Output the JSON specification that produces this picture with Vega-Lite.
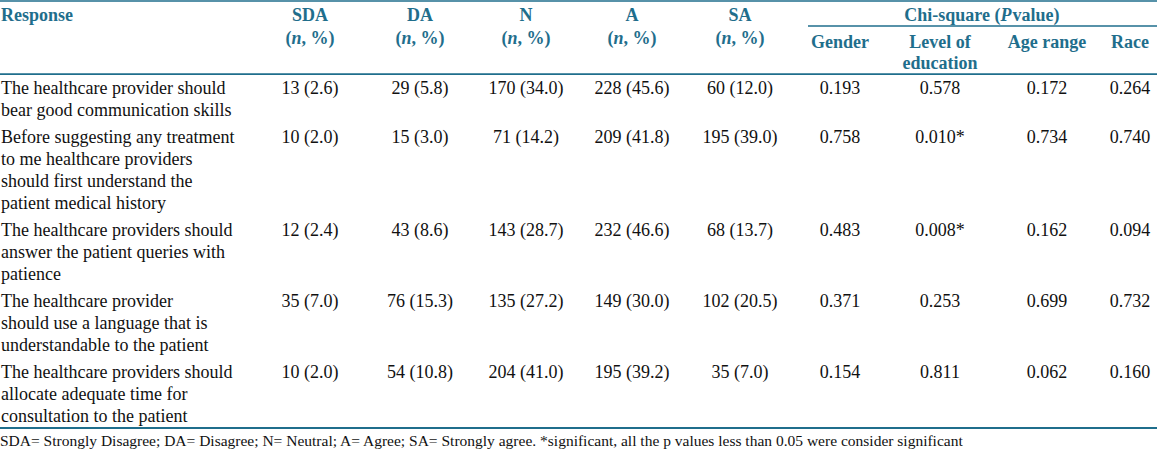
{
  "$schema": "https://vega.github.io/schema/vega-lite/v6.json",
  "width": 1157,
  "height": 451,
  "autosize": "none",
  "padding": 0,
  "background": "white",
  "config": {
    "view": {"stroke": null},
    "text": {"font": "Liberation Serif, Times New Roman, serif", "fontSize": 18, "baseline": "top", "color": "#111111"}
  },
  "datasets": {
    "header": [
      {"part": "l", "col": 0, "slot": -3, "text": "Response"},
      {"part": "c", "col": 1, "slot": -3, "text": "SDA"},
      {"part": "c", "col": 2, "slot": -3, "text": "DA"},
      {"part": "c", "col": 3, "slot": -3, "text": "N"},
      {"part": "c", "col": 4, "slot": -3, "text": "A"},
      {"part": "c", "col": 5, "slot": -3, "text": "SA"},
      {"part": "c", "col": 6, "slot": -1.5, "text": "Gender"},
      {"part": "c", "col": 7, "slot": -1.5, "text": "Level of"},
      {"part": "c", "col": 7, "slot": -1, "text": "education"},
      {"part": "c", "col": 8, "slot": -1.5, "text": "Age range"},
      {"part": "c", "col": 9, "slot": -1.5, "text": "Race"},
      {"part": "open", "col": 1, "slot": -2, "text": "("},
      {"part": "open", "col": 2, "slot": -2, "text": "("},
      {"part": "open", "col": 3, "slot": -2, "text": "("},
      {"part": "open", "col": 4, "slot": -2, "text": "("},
      {"part": "open", "col": 5, "slot": -2, "text": "("},
      {"part": "n", "col": 1, "slot": -2, "text": "n"},
      {"part": "n", "col": 2, "slot": -2, "text": "n"},
      {"part": "n", "col": 3, "slot": -2, "text": "n"},
      {"part": "n", "col": 4, "slot": -2, "text": "n"},
      {"part": "n", "col": 5, "slot": -2, "text": "n"},
      {"part": "rest", "col": 1, "slot": -2, "text": ", %)"},
      {"part": "rest", "col": 2, "slot": -2, "text": ", %)"},
      {"part": "rest", "col": 3, "slot": -2, "text": ", %)"},
      {"part": "rest", "col": 4, "slot": -2, "text": ", %)"},
      {"part": "rest", "col": 5, "slot": -2, "text": ", %)"},
      {"part": "chi", "col": 7.39, "slot": -3, "text": "Chi-square ("},
      {"part": "p", "col": 7.39, "slot": -3, "text": "P"},
      {"part": "val", "col": 7.39, "slot": -3, "text": "value)"}
    ],
    "rules": [
      {"kind": "thin", "col": -1, "col2": 10, "slot": -5},
      {"kind": "thin", "col": 5.68, "col2": 10, "slot": -2.5},
      {"kind": "mid", "col": -1, "col2": 10, "slot": -0.5},
      {"kind": "thick", "col": -1, "col2": 10, "slot": 5.5}
    ],
    "body": [
      {"row": 1, "col": 0, "slot": 1, "text": "The healthcare provider should\nbear good communication skills"},
      {"row": 1, "col": 1, "slot": 1, "text": "13 (2.6)"},
      {"row": 1, "col": 2, "slot": 1, "text": "29 (5.8)"},
      {"row": 1, "col": 3, "slot": 1, "text": "170 (34.0)"},
      {"row": 1, "col": 4, "slot": 1, "text": "228 (45.6)"},
      {"row": 1, "col": 5, "slot": 1, "text": "60 (12.0)"},
      {"row": 1, "col": 6, "slot": 1, "text": "0.193"},
      {"row": 1, "col": 7, "slot": 1, "text": "0.578"},
      {"row": 1, "col": 8, "slot": 1, "text": "0.172"},
      {"row": 1, "col": 9, "slot": 1, "text": "0.264"},
      {"row": 2, "col": 0, "slot": 2, "text": "Before suggesting any treatment\nto me healthcare providers\nshould first understand the\npatient medical history"},
      {"row": 2, "col": 1, "slot": 2, "text": "10 (2.0)"},
      {"row": 2, "col": 2, "slot": 2, "text": "15 (3.0)"},
      {"row": 2, "col": 3, "slot": 2, "text": "71 (14.2)"},
      {"row": 2, "col": 4, "slot": 2, "text": "209 (41.8)"},
      {"row": 2, "col": 5, "slot": 2, "text": "195 (39.0)"},
      {"row": 2, "col": 6, "slot": 2, "text": "0.758"},
      {"row": 2, "col": 7, "slot": 2, "text": "0.010*"},
      {"row": 2, "col": 8, "slot": 2, "text": "0.734"},
      {"row": 2, "col": 9, "slot": 2, "text": "0.740"},
      {"row": 3, "col": 0, "slot": 3, "text": "The healthcare providers should\nanswer the patient queries with\npatience"},
      {"row": 3, "col": 1, "slot": 3, "text": "12 (2.4)"},
      {"row": 3, "col": 2, "slot": 3, "text": "43 (8.6)"},
      {"row": 3, "col": 3, "slot": 3, "text": "143 (28.7)"},
      {"row": 3, "col": 4, "slot": 3, "text": "232 (46.6)"},
      {"row": 3, "col": 5, "slot": 3, "text": "68 (13.7)"},
      {"row": 3, "col": 6, "slot": 3, "text": "0.483"},
      {"row": 3, "col": 7, "slot": 3, "text": "0.008*"},
      {"row": 3, "col": 8, "slot": 3, "text": "0.162"},
      {"row": 3, "col": 9, "slot": 3, "text": "0.094"},
      {"row": 4, "col": 0, "slot": 4, "text": "The healthcare provider\nshould use a language that is\nunderstandable to the patient"},
      {"row": 4, "col": 1, "slot": 4, "text": "35 (7.0)"},
      {"row": 4, "col": 2, "slot": 4, "text": "76 (15.3)"},
      {"row": 4, "col": 3, "slot": 4, "text": "135 (27.2)"},
      {"row": 4, "col": 4, "slot": 4, "text": "149 (30.0)"},
      {"row": 4, "col": 5, "slot": 4, "text": "102 (20.5)"},
      {"row": 4, "col": 6, "slot": 4, "text": "0.371"},
      {"row": 4, "col": 7, "slot": 4, "text": "0.253"},
      {"row": 4, "col": 8, "slot": 4, "text": "0.699"},
      {"row": 4, "col": 9, "slot": 4, "text": "0.732"},
      {"row": 5, "col": 0, "slot": 5, "text": "The healthcare providers should\nallocate adequate time for\nconsultation to the patient"},
      {"row": 5, "col": 1, "slot": 5, "text": "10 (2.0)"},
      {"row": 5, "col": 2, "slot": 5, "text": "54 (10.8)"},
      {"row": 5, "col": 3, "slot": 5, "text": "204 (41.0)"},
      {"row": 5, "col": 4, "slot": 5, "text": "195 (39.2)"},
      {"row": 5, "col": 5, "slot": 5, "text": "35 (7.0)"},
      {"row": 5, "col": 6, "slot": 5, "text": "0.154"},
      {"row": 5, "col": 7, "slot": 5, "text": "0.811"},
      {"row": 5, "col": 8, "slot": 5, "text": "0.062"},
      {"row": 5, "col": 9, "slot": 5, "text": "0.160"}
    ],
    "note": [
      {"col": -1, "slot": 6, "text": "SDA= Strongly Disagree; DA= Disagree; N= Neutral; A= Agree; SA= Strongly agree. *significant, all the p values less than 0.05 were consider significant"}
    ]
  },
  "encoding": {
    "x": {"field": "col", "type": "quantitative", "axis": null,
      "scale": {"domain": [-1, 0, 1, 2, 3, 4, 5, 6, 7, 8, 9, 10], "range": [0, 1, 310, 420, 526, 632, 740, 840, 940, 1047, 1130, 1157], "zero": false, "nice": false}},
    "y": {"field": "slot", "type": "quantitative", "axis": null,
      "scale": {"domain": [-5, -3, -2.5, -2, -1.5, -1, -0.5, 1, 2, 3, 4, 5, 5.5, 6], "range": [1, 6.5, 26, 29.5, 33.5, 54.5, 74, 80, 128.5, 221.5, 292.5, 363.5, 428, 434], "zero": false, "nice": false}}
  },
  "layer": [
    {
      "data": {"name": "rules"},
      "mark": {"type": "rule", "color": "#1f6e8c"},
      "encoding": {
        "x2": {"field": "col2"},
        "strokeWidth": {"field": "kind", "type": "nominal", "legend": null, "scale": {"domain": ["thin", "mid", "thick"], "range": [1.5, 2, 3.5]}}
      }
    },
    {
      "data": {"name": "header"},
      "transform": [{"filter": "datum.part === 'c'"}],
      "mark": {"type": "text", "align": "center", "fontWeight": "bold", "color": "#1f6e8c"},
      "encoding": {"text": {"field": "text", "type": "nominal"}}
    },
    {
      "data": {"name": "header"},
      "transform": [{"filter": "datum.part === 'l'"}],
      "mark": {"type": "text", "align": "left", "fontWeight": "bold", "color": "#1f6e8c"},
      "encoding": {"text": {"field": "text", "type": "nominal"}}
    },
    {
      "data": {"name": "header"},
      "transform": [{"filter": "datum.part === 'open'"}],
      "mark": {"type": "text", "align": "right", "dx": -18.5, "fontWeight": "bold", "color": "#1f6e8c"},
      "encoding": {"text": {"field": "text", "type": "nominal"}}
    },
    {
      "data": {"name": "header"},
      "transform": [{"filter": "datum.part === 'n'"}],
      "mark": {"type": "text", "align": "left", "dx": -18.5, "fontWeight": "bold", "fontStyle": "italic", "color": "#1f6e8c"},
      "encoding": {"text": {"field": "text", "type": "nominal"}}
    },
    {
      "data": {"name": "header"},
      "transform": [{"filter": "datum.part === 'rest'"}],
      "mark": {"type": "text", "align": "left", "dx": -8.5, "fontWeight": "bold", "color": "#1f6e8c"},
      "encoding": {"text": {"field": "text", "type": "nominal"}}
    },
    {
      "data": {"name": "header"},
      "transform": [{"filter": "datum.part === 'chi'"}],
      "mark": {"type": "text", "align": "right", "dx": 18.75, "fontWeight": "bold", "color": "#1f6e8c"},
      "encoding": {"text": {"field": "text", "type": "nominal"}}
    },
    {
      "data": {"name": "header"},
      "transform": [{"filter": "datum.part === 'p'"}],
      "mark": {"type": "text", "align": "left", "dx": 18.75, "fontWeight": "bold", "fontStyle": "italic", "color": "#1f6e8c"},
      "encoding": {"text": {"field": "text", "type": "nominal"}}
    },
    {
      "data": {"name": "header"},
      "transform": [{"filter": "datum.part === 'val'"}],
      "mark": {"type": "text", "align": "left", "dx": 30.75, "fontWeight": "bold", "color": "#1f6e8c"},
      "encoding": {"text": {"field": "text", "type": "nominal"}}
    },
    {
      "data": {"name": "body"},
      "transform": [{"filter": "datum.col > 0"}],
      "mark": {"type": "text", "align": "center"},
      "encoding": {"text": {"field": "text", "type": "nominal"}}
    },
    {
      "data": {"name": "body"},
      "transform": [{"filter": "datum.col === 0"}],
      "mark": {"type": "text", "align": "left", "lineBreak": "\n", "lineHeight": 22},
      "encoding": {"text": {"field": "text", "type": "nominal"}}
    },
    {
      "data": {"name": "note"},
      "mark": {"type": "text", "align": "left", "fontSize": 15.5},
      "encoding": {"text": {"field": "text", "type": "nominal"}}
    }
  ]
}
